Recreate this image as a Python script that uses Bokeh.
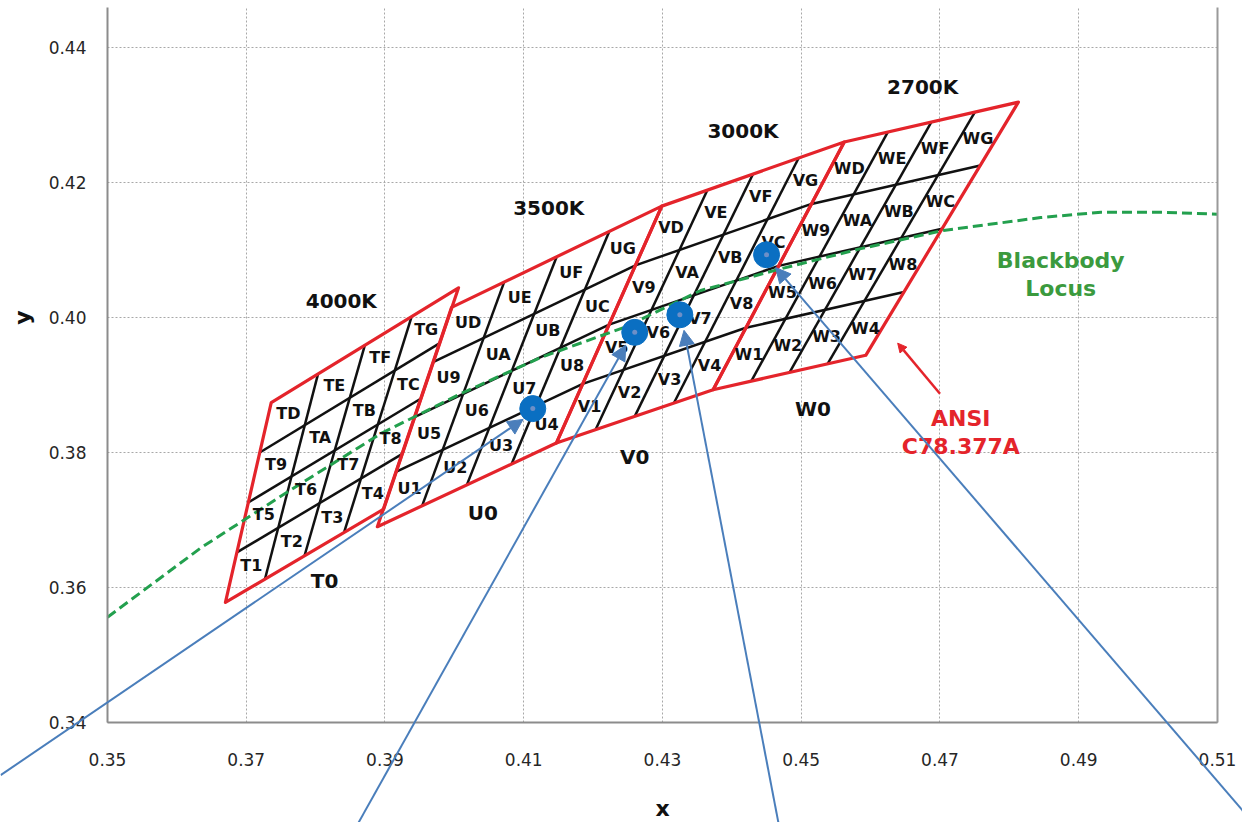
import numpy as np
from math import pi
from bokeh.plotting import figure
from bokeh.models import (Range1d, FixedTicker, LinearAxis, Arrow, NormalHead,
                          Label, ColumnDataSource, Grid)
from bokeh.core.properties import value
from bokeh.embed import file_html
from bokeh.resources import INLINE

# ---------------- data ----------------
cct_names = ["4000K", "3500K", "3000K", "2700K"]
bin_prefix = ["T", "U", "V", "W"]
bin_codes = ["1", "2", "3", "4", "5", "6", "7", "8", "9", "A", "B", "C", "D", "E", "F", "G"]
# quadrangle corners: bottom-left, bottom-right, top-right, top-left
quad_x = [[0.3670, 0.3898, 0.4006, 0.3736],
          [0.3889, 0.4147, 0.4299, 0.3996],
          [0.4147, 0.4373, 0.4562, 0.4299],
          [0.4373, 0.4593, 0.4813, 0.4562]]
quad_y = [[0.3578, 0.3716, 0.4044, 0.3874],
          [0.3690, 0.3814, 0.4165, 0.4015],
          [0.3814, 0.3893, 0.4260, 0.4165],
          [0.3893, 0.3944, 0.4319, 0.4260]]
cct_label_x = [0.3837, 0.4136, 0.4416, 0.4675]
cct_label_y = [0.4024, 0.4162, 0.4276, 0.4341]
zero_label_x = [0.3813, 0.4041, 0.4260, 0.4517]
zero_label_y = [0.3610, 0.3711, 0.3794, 0.3865]

locus_x = [0.3500, 0.3635, 0.3760, 0.3894, 0.4009, 0.4125, 0.4244, 0.4355,
           0.4470, 0.4586, 0.4705, 0.4845, 0.4932, 0.5020, 0.5100]
locus_y = [0.3556, 0.3659, 0.3742, 0.3828, 0.3887, 0.3941, 0.3985, 0.4040,
           0.4072, 0.4102, 0.4129, 0.4148, 0.4156, 0.4156, 0.4153]

point_x = [0.4113, 0.4260, 0.4325, 0.4450]
point_y = [0.3865, 0.3978, 0.4004, 0.4093]

arrow_x_start = [0.3346, 0.3862, 0.4467, 0.5151]
arrow_y_start = [0.3322, 0.3252, 0.3252, 0.3252]
arrow_x_end = [0.4099, 0.4247, 0.4331, 0.4463]
arrow_y_end = [0.3849, 0.3959, 0.3981, 0.4074]

x_ticks = [0.35, 0.37, 0.39, 0.41, 0.43, 0.45, 0.47, 0.49, 0.51]
x_tick_labels = ["0.35", "0.37", "0.39", "0.41", "0.43", "0.45", "0.47", "0.49", "0.51"]
y_ticks = [0.34, 0.36, 0.38, 0.40, 0.42, 0.44]
y_tick_labels = ["0.34", "0.36", "0.38", "0.40", "0.42", "0.44"]
x_plot = (0.35, 0.51)
y_plot = (0.34, 0.44593)

RED = "#e4242b"
BLACK = "#111111"
GREEN = "#23a04e"
GREEN_TXT = "#3b9a3e"
BLUE = "#4a7ebb"
DOT = "#0a6fc2"
FONT = "DejaVu Sans"

# ---------------- figure ----------------
# the frame fills the whole canvas so that the call-out arrows can run past the axes
p = figure(width=1242, height=822, x_range=Range1d(0.334577, 0.513604),
           y_range=Range1d(0.325185, 0.446963), output_backend="svg",
           toolbar_location=None, min_border=0, x_axis_location=None,
           y_axis_location=None)
p.outline_line_color = None
p.background_fill_color = "white"
p.border_fill_color = "white"
for g in list(p.center):
    if isinstance(g, Grid):
        g.visible = False


def style_axis(ax):
    ax.axis_line_color = "#8c8c8c"
    ax.axis_line_width = 2
    ax.major_tick_out = 0
    ax.major_tick_in = 0
    ax.minor_tick_out = 0
    ax.minor_tick_in = 0
    ax.major_label_text_font = FONT
    ax.major_label_text_font_size = "17px"
    ax.major_label_text_color = "#262626"


xax = LinearAxis(ticker=FixedTicker(ticks=x_ticks), fixed_location=y_plot[0],
                 bounds=x_plot, major_label_overrides=dict(zip(x_ticks, x_tick_labels)),
                 major_label_standoff=31)
style_axis(xax)
p.add_layout(xax, "below")

yax = LinearAxis(ticker=FixedTicker(ticks=y_ticks), fixed_location=x_plot[0],
                 bounds=y_plot, major_label_overrides=dict(zip(y_ticks, y_tick_labels)),
                 major_label_standoff=21)
style_axis(yax)
p.add_layout(yax, "left")

rax = LinearAxis(ticker=FixedTicker(ticks=[]), fixed_location=x_plot[1], bounds=y_plot,
                 axis_line_color="#9a9a9a", axis_line_width=2, major_tick_out=0,
                 major_tick_in=0, minor_tick_out=0, minor_tick_in=0,
                 major_label_text_font_size="0px")
p.add_layout(rax, "right")

has_cross = "cross_bounds" in Grid.properties()
if has_cross:
    for dim, t, b, cb in ((0, x_ticks, x_plot, y_plot), (1, y_ticks, y_plot, x_plot)):
        g = Grid(dimension=dim, ticker=FixedTicker(ticks=t), bounds=b, cross_bounds=cb,
                 grid_line_color="#a8a8a8", grid_line_dash="2 2", grid_line_width=1)
        p.add_layout(g)
else:
    p.segment(x_ticks, [y_plot[0]] * len(x_ticks), x_ticks, [y_plot[1]] * len(x_ticks),
              line_color="#a8a8a8", line_dash="2 2", line_width=1)
    p.segment([x_plot[0]] * len(y_ticks), y_ticks, [x_plot[1]] * len(y_ticks), y_ticks,
              line_color="#a8a8a8", line_dash="2 2", line_width=1)

# ---------------- quadrangles ----------------
fr = [0.25, 0.5, 0.75]
gx, gy = [], []
lab_x, lab_y, lab_t = [], [], []
for q in range(4):
    bl = np.array([quad_x[q][0], quad_y[q][0]])
    br = np.array([quad_x[q][1], quad_y[q][1]])
    tr = np.array([quad_x[q][2], quad_y[q][2]])
    tl = np.array([quad_x[q][3], quad_y[q][3]])
    for f in fr:
        a = bl + f * (tl - bl)
        b = br + f * (tr - br)
        gx.append([a[0], b[0]]); gy.append([a[1], b[1]])
        a = bl + f * (br - bl)
        b = tl + f * (tr - tl)
        gx.append([a[0], b[0]]); gy.append([a[1], b[1]])
    for r in range(4):
        for c in range(4):
            u = (c + 0.5) / 4
            v = (r + 0.5) / 4
            pt = (1 - u) * (1 - v) * bl + u * (1 - v) * br + u * v * tr + (1 - u) * v * tl
            lab_x.append(pt[0]); lab_y.append(pt[1])
            lab_t.append(bin_prefix[q] + bin_codes[r * 4 + c])

p.multi_line(gx, gy, line_color=BLACK, line_width=2.5)
p.patches([list(q) for q in quad_x], [list(q) for q in quad_y],
          fill_color=None, line_color=RED, line_width=3.2, line_join="round")

p.line(locus_x, locus_y, line_color=GREEN, line_width=3, line_dash="10 5")

p.text(lab_x, lab_y, text=lab_t, text_font=value(FONT), text_font_style="bold",
       text_font_size=value("16px"), text_align="center", text_baseline="middle",
       text_color=BLACK)
p.text(cct_label_x, cct_label_y, text=cct_names, text_font=value(FONT),
       text_font_style="bold", text_font_size=value("20px"), text_align="center",
       text_baseline="middle", text_color=BLACK)
p.text(zero_label_x, zero_label_y, text=[b + "0" for b in bin_prefix],
       text_font=value(FONT), text_font_style="bold", text_font_size=value("20px"),
       text_align="center", text_baseline="middle", text_color=BLACK)
p.text([0.4874, 0.4874], [0.4084, 0.4043], text=["Blackbody", "Locus"],
       text_font=value(FONT), text_font_style="bold", text_font_size=value("22px"),
       text_align="center", text_baseline="middle", text_color=GREEN_TXT)
p.text([0.4730, 0.4730], [0.3850, 0.3809], text=["ANSI", "C78.377A"],
       text_font=value(FONT), text_font_style="bold", text_font_size=value("22px"),
       text_align="center", text_baseline="middle", text_color=RED)

p.add_layout(Arrow(end=NormalHead(size=9, fill_color=RED, line_color=RED),
                   x_start=0.4700, y_start=0.3887, x_end=0.4639, y_end=0.3962,
                   line_color=RED, line_width=2.5))

# ---------------- points & arrows ----------------
p.scatter(point_x, point_y, size=26, fill_color=DOT, line_color=DOT)
p.scatter(point_x, point_y, size=5, fill_color="#6d8fc7", line_color=None)

asrc = ColumnDataSource(dict(xs=arrow_x_start, ys=arrow_y_start,
                             xe=arrow_x_end, ye=arrow_y_end))
p.add_layout(Arrow(end=NormalHead(size=15, fill_color=BLUE, line_color=BLUE),
                   x_start="xs", y_start="ys", x_end="xe", y_end="ye",
                   source=asrc, line_color=BLUE, line_width=2))

# ---------------- axis titles ----------------
p.add_layout(Label(x=0.3378, y=0.40, text="y", angle=pi / 2, text_align="center",
                   text_baseline="middle", text_font=FONT, text_font_style="bold",
                   text_font_size="22px", text_color=BLACK))
p.add_layout(Label(x=0.4300, y=0.3272, text="x", text_align="center",
                   text_baseline="middle", text_font=FONT, text_font_style="bold",
                   text_font_size="22px", text_color=BLACK))

open("out.html", "w").write(file_html(p, INLINE))
